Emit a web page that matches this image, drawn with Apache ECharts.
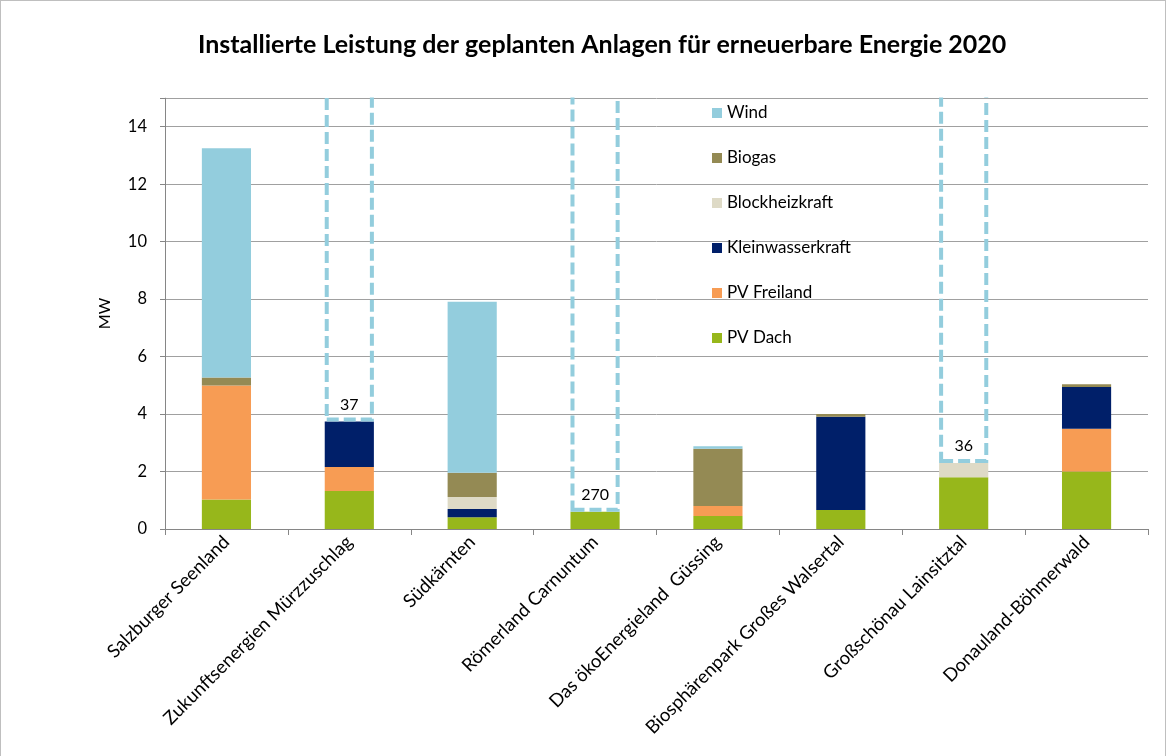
<!DOCTYPE html>
<html>
<head>
<meta charset="utf-8">
<script src="https://cdn.jsdelivr.net/npm/echarts@6/dist/echarts.min.js"></script>
<style>
html,body{margin:0;padding:0;background:#fff;}
#frame{position:absolute;left:0;top:0;width:1166px;height:760px;border:1px solid #bfbfbf;box-sizing:border-box;z-index:2;pointer-events:none;background:transparent;}
#chart{position:absolute;left:0;top:0;width:1168px;height:756px;z-index:1;}
</style>
</head>
<body>
<div id="frame"></div>
<div id="chart"></div>
<script>
const titleText = 'Installierte Leistung der geplanten Anlagen für erneuerbare Energie 2020';
const categories = ['Salzburger Seenland','Zukunftsenergien Mürzzuschlag','Südkärnten','Römerland Carnuntum','Das ökoEnergieland  Güssing','Biosphärenpark Großes Walsertal','Großschönau Lainsitztal','Donauland-Böhmerwald'];
const pvDach        = [1.03, 1.32, 0.41, 0.60, 0.45, 0.66, 1.80, 2.00];
const pvFreiland    = [3.96, 0.84, 0,    0,    0.35, 0,    0,    1.49];
const kleinwasser   = [0,    1.58, 0.29, 0,    0,    3.25, 0,    1.45];
const blockheiz     = [0,    0,    0.41, 0,    0,    0,    0.50, 0];
const biogas        = [0.28, 0,    0.85, 0,    1.99, 0.09, 0,    0.10];
const wind          = [7.98, 0,    5.95, 0,    0.09, 0,    0,    0];
const offScaleTotal = [null, 37,   null, 270,  null, null, 36,   null];
const yTicks = [0, 2, 4, 6, 8, 10, 12, 14];

const seriesDefs = [
  {name:'PV Dach', data:pvDach, color:'#97B71B'},
  {name:'PV Freiland', data:pvFreiland, color:'#F79C54'},
  {name:'Kleinwasserkraft', data:kleinwasser, color:'#001F69'},
  {name:'Blockheizkraft', data:blockheiz, color:'#DEDAC6'},
  {name:'Biogas', data:biogas, color:'#948A54'},
  {name:'Wind', data:wind, color:'#93CDDD'}
];

const font = 'Lato, "Open Sans", sans-serif';
const series = seriesDefs.map(s => ({
  name: s.name, type: 'bar', stack: 'total', barWidth: '40%',
  data: s.data.map(v => v === 0 ? null : v),
  itemStyle: {color: s.color},
  emphasis: {disabled: true}
}));
series.push({
  name: 'Wind (außerhalb Skala)', type: 'bar', stack: 'total', barWidth: '40%',
  data: offScaleTotal,
  clip: false,
  itemStyle: {color: 'rgba(255,255,255,0)', borderColor: '#93CDDD', borderWidth: 4, borderType: [12, 5]},
  label: {show: true, position: 'insideBottom', distance: 8, color: '#000', fontFamily: font, fontSize: 16,
          backgroundColor: '#fff', padding: [1, 3]},
  emphasis: {disabled: true}
});

const chart = echarts.init(document.getElementById('chart'));
chart.setOption({
  animation: false,
  backgroundColor: 'transparent',
  title: {text: titleText, left: 193, top: 27, z: 10,
          textStyle: {fontFamily: font, fontSize: 25, fontWeight: 'bold', color: '#000'}},
  graphic: [{type: 'rect', left: 0, top: 0, z: 5, silent: true,
             shape: {x: 0, y: 0, width: 1168, height: 97.5}, style: {fill: '#fff'}}],
  legend: {
    data: seriesDefs.map(s => s.name).reverse(),
    orient: 'vertical', left: 707, top: 98,
    itemWidth: 10, itemHeight: 10, itemGap: 25, icon: 'rect',
    textStyle: {fontFamily: font, fontSize: 17, color: '#000', lineHeight: 20}
  },
  grid: {left: 165, right: 20, top: 98, bottom: 227, containLabel: false},
  xAxis: {
    type: 'category', data: categories,
    axisLine: {lineStyle: {color: '#868686', width: 1}},
    axisTick: {show: true, length: 6, lineStyle: {color: '#868686'}},
    axisLabel: {rotate: 45, interval: 0, margin: 10, fontFamily: font, fontSize: 18.5, color: '#000'}
  },
  yAxis: {
    type: 'value', min: 0, max: 15, interval: 2,
    name: 'MW', nameLocation: 'middle', nameGap: 52, nameRotate: 90,
    nameTextStyle: {fontFamily: font, fontSize: 16, color: '#000'},
    axisLine: {show: true, lineStyle: {color: '#868686'}},
    axisTick: {show: true, length: 5, lineStyle: {color: '#868686'}},
    axisLabel: {fontFamily: font, fontSize: 16.5, color: '#000', margin: 18,
      formatter: v => yTicks.includes(v) ? String(v) : ''},
    splitLine: {lineStyle: {color: '#A0A0A0', width: 1}}
  },
  series: series
});
</script>
</body>
</html>
